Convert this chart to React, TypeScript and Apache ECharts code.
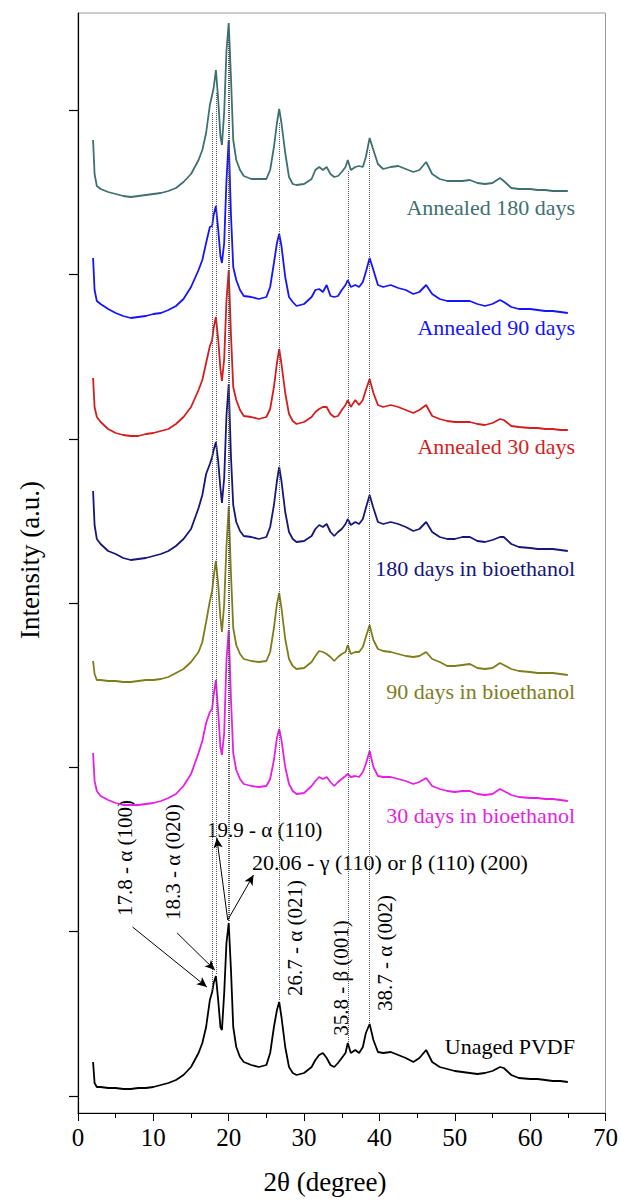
import React, { useEffect, useRef } from "react";
import * as echarts from "echarts";

// 2θ sample positions (degree)
const twoTheta = [2, 2.2, 2.5, 3, 4, 5, 6, 7, 8, 9, 10, 11, 12, 13, 14, 15, 16, 16.5, 17, 17.5, 17.8, 18.0, 18.3, 18.6, 18.9, 19.1, 19.4, 19.7, 20.0, 20.3, 20.6, 21, 21.5, 22, 23, 24, 25, 25.5, 26, 26.4, 26.7, 27, 27.5, 28, 28.5, 29, 30, 31, 31.5, 32, 32.5, 33, 33.5, 34, 34.5, 35, 35.5, 35.8, 36.2, 36.8, 37.3, 37.8, 38.2, 38.7, 39.2, 39.8, 40.5, 41.5, 42.5, 43.5, 44.5, 45.3, 46.2, 47, 48, 49, 50, 51, 52, 53, 54, 55, 56, 56.5, 57.5, 58.5, 60, 61, 62, 63, 64, 65];

// Intensities (a.u., stacked with offsets as plotted)
const annealed180 = [973, 939, 927, 924, 921, 919, 917, 916, 917, 918, 919, 920, 922, 925, 931, 939, 953, 963, 980, 1008, 1018, 1025, 1043, 1014, 977, 968, 1001, 1062, 1090, 1035, 973, 953, 943, 937, 934, 934, 934, 943, 966, 990, 1004, 990, 960, 936, 929, 928, 929, 934, 943, 946, 943, 946, 939, 936, 937, 941, 946, 953, 943, 946, 947, 946, 956, 975, 963, 949, 944, 946, 947, 944, 941, 943, 951, 939, 934, 932, 932, 932, 933, 930, 929, 930, 935, 932, 925, 924, 924, 923, 923, 922, 922, 922];
const annealed90 = [855, 823, 812, 809, 804, 800, 797, 795, 796, 797, 799, 800, 803, 807, 814, 826, 843, 853, 870, 886, 887, 898, 907, 884, 857, 850, 870, 932, 973, 898, 846, 833, 823, 817, 816, 814, 816, 826, 850, 870, 879, 867, 836, 816, 811, 807, 809, 816, 823, 824, 821, 828, 817, 816, 817, 823, 828, 833, 826, 828, 826, 831, 841, 855, 843, 828, 826, 828, 825, 823, 819, 821, 828, 819, 814, 812, 812, 812, 812, 809, 807, 809, 813, 811, 806, 804, 804, 803, 802, 802, 801, 800];
const annealed30 = [735, 706, 696, 691, 684, 680, 678, 677, 677, 679, 680, 682, 684, 689, 696, 706, 723, 733, 750, 767, 773, 785, 796, 774, 744, 732, 754, 812, 843, 778, 726, 713, 703, 697, 696, 694, 696, 704, 726, 750, 764, 749, 720, 699, 692, 689, 691, 696, 701, 704, 706, 706, 699, 696, 697, 703, 708, 713, 706, 713, 708, 713, 723, 734, 720, 708, 706, 708, 706, 703, 700, 703, 708, 697, 694, 692, 691, 691, 691, 689, 688, 690, 694, 693, 687, 686, 685, 685, 684, 684, 683, 683];
const bio180 = [622, 588, 574, 569, 562, 559, 555, 553, 554, 555, 557, 559, 562, 567, 574, 584, 605, 618, 639, 649, 656, 663, 671, 652, 625, 610, 635, 697, 729, 656, 608, 591, 582, 577, 576, 574, 576, 586, 608, 632, 646, 632, 601, 581, 574, 571, 572, 577, 584, 588, 586, 589, 581, 577, 581, 584, 589, 594, 588, 591, 589, 594, 605, 618, 605, 591, 589, 591, 589, 586, 582, 584, 591, 581, 576, 574, 574, 576, 576, 572, 571, 573, 576, 576, 569, 566, 565, 564, 564, 564, 563, 562];
const bio90 = [452, 439, 433, 433, 432, 432, 431, 431, 432, 433, 433, 434, 436, 440, 444, 451, 461, 471, 491, 512, 522, 536, 552, 529, 495, 481, 509, 567, 606, 539, 485, 468, 459, 454, 452, 451, 452, 461, 485, 509, 520, 505, 474, 454, 447, 444, 445, 451, 457, 462, 461, 459, 456, 452, 456, 459, 461, 468, 459, 461, 461, 466, 476, 488, 473, 464, 462, 461, 459, 457, 456, 457, 461, 454, 451, 447, 447, 448, 449, 445, 444, 445, 450, 448, 444, 442, 441, 440, 440, 440, 439, 438];
const bio30 = [360, 332, 322, 317, 313, 310, 308, 308, 308, 309, 310, 312, 315, 319, 327, 339, 360, 372, 390, 401, 404, 418, 433, 401, 366, 358, 380, 452, 483, 414, 360, 343, 334, 329, 327, 326, 327, 334, 353, 375, 384, 373, 346, 329, 322, 319, 320, 327, 332, 336, 334, 336, 331, 327, 331, 334, 337, 339, 336, 337, 336, 341, 349, 362, 346, 337, 336, 336, 334, 332, 329, 331, 335, 327, 324, 322, 321, 322, 322, 319, 318, 319, 324, 322, 318, 316, 315, 315, 314, 314, 313, 312];
const unaged = [51, 30, 26, 26, 25, 25, 24, 24, 25, 25, 26, 28, 30, 33, 38, 46, 60, 70, 86, 113, 121, 130, 137, 113, 86, 83, 120, 170, 190, 143, 86, 66, 56, 51, 48, 46, 48, 60, 86, 103, 111, 96, 66, 46, 40, 38, 40, 46, 53, 58, 60, 55, 48, 46, 50, 55, 60, 70, 60, 63, 60, 66, 80, 89, 73, 61, 60, 61, 58, 55, 51, 55, 63, 51, 46, 44, 42, 41, 40, 39, 40, 42, 46, 45, 38, 35, 34, 34, 33, 32, 32, 31];

const seriesNames = ["Annealed 180 days", "Annealed 90 days", "Annealed 30 days", "180 days in bioethanol", "90 days in bioethanol", "30 days in bioethanol", "Unaged PVDF"];
const seriesValues = [annealed180, annealed90, annealed30, bio180, bio90, bio30, unaged];
const seriesColors = ["#3e7070", "#1414ff", "#d41e1e", "#16167a", "#7d7d1c", "#e61ee6", "#000000"];
const labelY = [207, 327, 446, 568, 691, 815, 1046];

// Reflection guide lines (dotted)
const peakPositions = [17.8, 18.3, 19.9, 20.06, 26.7, 35.8, 38.7];
const guideTop = [1000, 1020, 1073, 1073, 990, 942, 963];
const guideBottom = [123, 138, 191, 191, 112, 70, 89];

// Arrows: [fromX, fromY, toX, toY]
const arrows = [
  [7.24, 186, 17.1, 126],
  [13.16, 180, 18.16, 143],
  [19.87, 193, 18.42, 275],
  [19.87, 193, 23.29, 238],
];

const xTicks = [0, 10, 20, 30, 40, 50, 60, 70];
const yTicks = [17, 181.3, 345.6, 509.9, 674.2, 838.5, 1002.8];

const FONT = "'Liberation Serif', 'Times New Roman', serif";

export default function App() {
  const ref = useRef<HTMLDivElement>(null);
  useEffect(() => {
    if (!ref.current) return;
    const chart = echarts.init(ref.current, null, { renderer: "svg" });
    const series: any[] = seriesValues.map((vals, i) => ({
      name: seriesNames[i],
      type: "line",
      data: twoTheta.map((x, k) => [x, vals[k]]),
      showSymbol: false,
      symbol: "none",
      lineStyle: { color: seriesColors[i], width: 1.8 },
      itemStyle: { color: seriesColors[i] },
      z: 3,
    }));
    series[0].markLine = {
      silent: true,
      symbol: ["none", "none"],
      label: { show: false },
      lineStyle: { type: "dotted", color: "#555", width: 1 },
      data: peakPositions.map((p, i) => [
        { coord: [p, guideTop[i]] },
        { coord: [p, guideBottom[i]] },
      ]),
    };
    series[6].markLine = {
      silent: true,
      symbol: ["none", "arrow"],
      symbolSize: [7, 10],
      label: { show: false },
      lineStyle: { type: "solid", color: "#000", width: 1 },
      data: arrows.map((a) => [{ coord: [a[0], a[1]] }, { coord: [a[2], a[3]] }]),
    };

    const annotations = [
      { text: "17.8 - α (100)", x: 125, y: 858, r: Math.PI / 2 },
      { text: "18.3 - α (020)", x: 173, y: 862, r: Math.PI / 2 },
      { text: "26.7 - α (021)", x: 295, y: 938, r: Math.PI / 2 },
      { text: "35.8 - β (001)", x: 341, y: 978, r: Math.PI / 2 },
      { text: "38.7 - α (002)", x: 385, y: 953, r: Math.PI / 2 },
    ];

    const txt = (text: string, x: number, y: number, size: number, fill: string, align: string, rotation = 0) => ({
      type: "text",
      x,
      y,
      rotation,
      style: { text, fill, font: `${size}px ${FONT}`, align, verticalAlign: "middle" },
    });

    const graphic: any[] = [];
    seriesNames.forEach((n, i) => graphic.push(txt(n, 575, labelY[i], 22, seriesColors[i], "right")));
    annotations.forEach((a) => graphic.push(txt(a.text, a.x, a.y, 21, "#000", "center", a.r)));
    graphic.push(txt("19.9 - α (110)", 207, 830, 21, "#000", "left"));
    graphic.push(txt("20.06 - γ (110) or β (110) (200)", 252, 862, 22, "#000", "left"));
    graphic.push(txt("2θ (degree)", 325, 1182, 27, "#000", "center"));
    graphic.push(txt("Intensity (a.u.)", 30, 560, 27, "#000", "center", Math.PI / 2));

    chart.setOption({
      animation: false,
      backgroundColor: "#fff",
      textStyle: { fontFamily: FONT },
      grid: { left: 78, top: 13, width: 532, height: 1100, show: true, borderColor: "#999", borderWidth: 1, containLabel: false },
      xAxis: {
        type: "value",
        min: 0,
        max: 70,
        interval: 10,
        axisLine: { show: true, lineStyle: { color: "#000", width: 1.2 } },
        axisTick: { show: true, length: 8, inside: false, lineStyle: { color: "#000" } },
        minorTick: { show: true, splitNumber: 2, length: 5, lineStyle: { color: "#000" } },
        splitLine: { show: false },
        axisLabel: { color: "#000", fontSize: 25, fontFamily: FONT, margin: 12, customValues: xTicks },
      },
      yAxis: {
        type: "value",
        min: 0,
        max: 1100,
        axisLine: { show: true, lineStyle: { color: "#000", width: 1.2 } },
        axisTick: { show: true, length: 9, inside: false, customValues: yTicks, lineStyle: { color: "#000", width: 1.2 } },
        axisLabel: { show: false },
        splitLine: { show: false },
      },
      series,
      graphic,
    });
    return () => chart.dispose();
  }, []);
  return <div ref={ref} style={{ position: "absolute", left: 0, top: 0, width: 621, height: 1201 }} />;
}
